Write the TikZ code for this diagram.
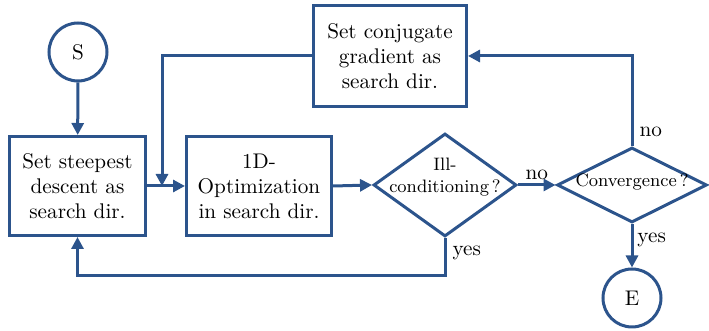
\documentclass[tikz,border=0pt]{standalone}
\usetikzlibrary{shapes.geometric,arrows.meta}
\definecolor{flowblue}{RGB}{44,84,140}
% centred multi-line text that takes no room, so a shape keeps its given size
\newcommand{\freetext}[1]{\smash{\makebox[0pt]{\begin{tabular}{@{}c@{}}#1\end{tabular}}}}
\begin{document}
\begin{tikzpicture}[x=0.5pt,y=-0.5pt,
  every node/.style={font=\fontsize{10.6pt}{12.5pt}\selectfont},
  procbox/.style={draw=flowblue,line width=1.5pt,rectangle,align=center,inner sep=2pt},
  decision/.style={draw=flowblue,line width=1.5pt,diamond,inner sep=0pt,
    font=\fontsize{9pt}{12pt}\selectfont},
  terminal/.style={draw=flowblue,line width=1.5pt,circle,minimum size=29pt,inner sep=0pt},
  flow/.style={draw=flowblue,line width=1.5pt,-{Triangle[length=6pt,width=6pt]}},
  lbl/.style={inner sep=1pt}]
\useasboundingbox (0,0) rectangle (709,331);

% terminals
\node[terminal] (S) at (78,52) {S};
\node[terminal] (E) at (632,298) {E};

% process boxes
\node[procbox,minimum width=68pt,minimum height=49.5pt] (steep) at (77.5,186)
  {Set steepest\\descent as\\search dir.};
\node[procbox,minimum width=72.5pt,minimum height=49.5pt] (opt) at (259,186)
  {1D-\\Optimization\\in search dir.};
\node[procbox,minimum width=76.5pt,minimum height=50.5pt] (conj) at (390,56)
  {Set conjugate\\gradient as\\search dir.};

% decisions
\node[decision,aspect=1.39,minimum width=71.5pt,minimum height=51.5pt] (ill) at (445,185)
  {\raisebox{4pt}{\freetext{Ill-\\[-1pt]conditioning\,?}}};
\node[decision,aspect=2.04,minimum width=75pt,minimum height=37.5pt] (conv) at (632,185)
  {\raisebox{-1.5pt}{\freetext{Convergence\,?}}};

% junction where the conjugate branch joins the main line
\coordinate (join) at (162,186);

% connectors
\draw[flow] (S) -- (steep);
\draw[flow] (steep.east) -- (opt.west);
\draw[flow] (conj.west) -| (join);
\draw[flow] (opt.east) -- (ill.west);
\draw[flow] (ill.east) -- node[lbl,above,yshift=1pt] {no} (conv.west);
\draw[flow] (conv.north) |- node[lbl,pos=0.08,right,xshift=2pt] {no} (conj.east);
\draw[flow] (conv.south) -- node[lbl,right,xshift=1pt,pos=0.36] {yes} (E.north);
\draw[flow] (ill.south) -- ++(0,38) node[lbl,pos=0.4,right,xshift=2pt] {yes} -| (steep.south);
\end{tikzpicture}
\end{document}
